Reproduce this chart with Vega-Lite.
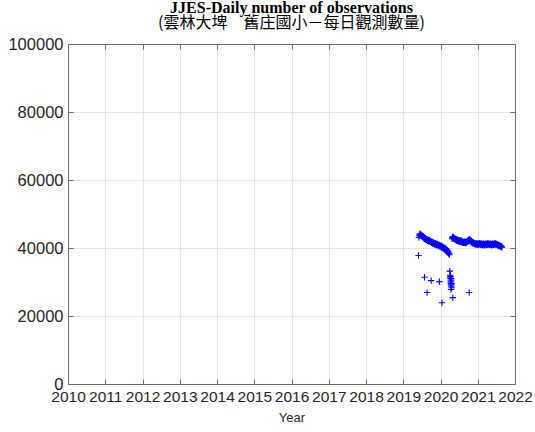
{
  "$schema": "https://vega.github.io/schema/vega-lite/v6.json",
  "width": 447,
  "height": 340,
  "autosize": {"type": "none"},
  "padding": {"left": 68, "top": 44, "right": 20, "bottom": 48},
  "background": "white",
  "title": {
    "text": "JJES-Daily number of observations",
    "subtitle": "(雲林大埤　舊庄國小－每日觀測數量)",
    "font": "Liberation Serif",
    "fontWeight": "bold",
    "fontSize": 16,
    "color": "black",
    "subtitleFont": "Noto Sans CJK TC",
    "subtitleFontSize": 16,
    "subtitleColor": "black",
    "anchor": "middle",
    "offset": 5,
    "subtitlePadding": -1
  },
  "config": {
    "view": {"stroke": "#6e6e6e", "strokeWidth": 1},
    "axis": {
      "labelFont": "Liberation Sans",
      "labelFontSize": 15.5,
      "labelColor": "#262626",
      "titleFont": "Liberation Sans",
      "titleFontSize": 13,
      "titleFontWeight": "normal",
      "titleColor": "#262626",
      "domainColor": "#6e6e6e",
      "tickColor": "#6e6e6e",
      "gridColor": "#e6e6e6",
      "gridWidth": 1,
      "tickSize": -5,
      "labelPadding": 10,
      "labelOverlap": false,
      "labelFlush": false,
      "labelBound": false
    }
  },
  "datasets": {
    "obs": [
      {"t": 2019.42, "n": 43100}, {"t": 2019.43, "n": 43600}, {"t": 2019.44, "n": 43900}, {"t": 2019.45, "n": 44200},
      {"t": 2019.46, "n": 43800}, {"t": 2019.47, "n": 44100}, {"t": 2019.48, "n": 43700}, {"t": 2019.49, "n": 43500},
      {"t": 2019.50, "n": 43800}, {"t": 2019.51, "n": 43400}, {"t": 2019.52, "n": 43200}, {"t": 2019.53, "n": 43500},
      {"t": 2019.54, "n": 43100}, {"t": 2019.55, "n": 42900}, {"t": 2019.56, "n": 43200}, {"t": 2019.57, "n": 42800},
      {"t": 2019.58, "n": 42600}, {"t": 2019.59, "n": 42900}, {"t": 2019.60, "n": 42500}, {"t": 2019.61, "n": 42700},
      {"t": 2019.62, "n": 42300}, {"t": 2019.63, "n": 42600}, {"t": 2019.64, "n": 42400}, {"t": 2019.65, "n": 42100},
      {"t": 2019.66, "n": 42500}, {"t": 2019.67, "n": 42200}, {"t": 2019.68, "n": 41900}, {"t": 2019.69, "n": 42300},
      {"t": 2019.70, "n": 42000}, {"t": 2019.71, "n": 42400}, {"t": 2019.72, "n": 42100}, {"t": 2019.73, "n": 41800},
      {"t": 2019.74, "n": 42000}, {"t": 2019.75, "n": 41700}, {"t": 2019.76, "n": 41500}, {"t": 2019.77, "n": 41900},
      {"t": 2019.78, "n": 41600}, {"t": 2019.79, "n": 41300}, {"t": 2019.80, "n": 41700}, {"t": 2019.81, "n": 41400},
      {"t": 2019.82, "n": 41200}, {"t": 2019.83, "n": 41500}, {"t": 2019.84, "n": 41100}, {"t": 2019.85, "n": 41300},
      {"t": 2019.86, "n": 41000}, {"t": 2019.87, "n": 41400}, {"t": 2019.88, "n": 41100}, {"t": 2019.89, "n": 40800},
      {"t": 2019.90, "n": 41200}, {"t": 2019.91, "n": 40900}, {"t": 2019.92, "n": 41100}, {"t": 2019.93, "n": 40700},
      {"t": 2019.94, "n": 41000}, {"t": 2019.95, "n": 40800}, {"t": 2019.96, "n": 40500}, {"t": 2019.97, "n": 40900},
      {"t": 2019.98, "n": 40600}, {"t": 2019.99, "n": 40400}, {"t": 2020.00, "n": 40700}, {"t": 2020.01, "n": 40500},
      {"t": 2020.02, "n": 40200}, {"t": 2020.03, "n": 40600}, {"t": 2020.04, "n": 40300}, {"t": 2020.05, "n": 40000},
      {"t": 2020.06, "n": 40400}, {"t": 2020.07, "n": 40100}, {"t": 2020.08, "n": 39800}, {"t": 2020.09, "n": 40200},
      {"t": 2020.10, "n": 39900}, {"t": 2020.11, "n": 39600}, {"t": 2020.12, "n": 40000}, {"t": 2020.13, "n": 39700},
      {"t": 2020.14, "n": 39400}, {"t": 2020.15, "n": 39800}, {"t": 2020.16, "n": 39300}, {"t": 2020.17, "n": 39000},
      {"t": 2020.18, "n": 39400}, {"t": 2020.19, "n": 38800}, {"t": 2020.20, "n": 39100}, {"t": 2020.21, "n": 38500},
      {"t": 2020.22, "n": 38900}, {"t": 2020.23, "n": 38300}, {"t": 2020.24, "n": 38000},
      {"t": 2020.31, "n": 42700}, {"t": 2020.32, "n": 43200}, {"t": 2020.33, "n": 42900}, {"t": 2020.34, "n": 43300},
      {"t": 2020.35, "n": 42800}, {"t": 2020.36, "n": 43000}, {"t": 2020.37, "n": 42600}, {"t": 2020.38, "n": 42900},
      {"t": 2020.39, "n": 42500}, {"t": 2020.40, "n": 42700}, {"t": 2020.41, "n": 42300}, {"t": 2020.42, "n": 42600},
      {"t": 2020.43, "n": 42200}, {"t": 2020.44, "n": 42500}, {"t": 2020.45, "n": 42100}, {"t": 2020.46, "n": 42400},
      {"t": 2020.47, "n": 42000}, {"t": 2020.48, "n": 42300}, {"t": 2020.49, "n": 41900}, {"t": 2020.50, "n": 42200},
      {"t": 2020.51, "n": 41800}, {"t": 2020.52, "n": 42100}, {"t": 2020.53, "n": 41900}, {"t": 2020.54, "n": 42300},
      {"t": 2020.55, "n": 42000}, {"t": 2020.56, "n": 41700}, {"t": 2020.57, "n": 42100}, {"t": 2020.58, "n": 41800},
      {"t": 2020.59, "n": 41600}, {"t": 2020.60, "n": 41900}, {"t": 2020.61, "n": 41700}, {"t": 2020.62, "n": 41500},
      {"t": 2020.63, "n": 41800}, {"t": 2020.64, "n": 41600}, {"t": 2020.65, "n": 41900}, {"t": 2020.66, "n": 41500},
      {"t": 2020.67, "n": 41700}, {"t": 2020.68, "n": 41400}, {"t": 2020.69, "n": 41800}, {"t": 2020.70, "n": 41600},
      {"t": 2020.71, "n": 41900}, {"t": 2020.72, "n": 42100}, {"t": 2020.73, "n": 41800}, {"t": 2020.74, "n": 42200},
      {"t": 2020.75, "n": 42400}, {"t": 2020.76, "n": 42000}, {"t": 2020.77, "n": 42300}, {"t": 2020.78, "n": 42500},
      {"t": 2020.79, "n": 42100}, {"t": 2020.80, "n": 42400}, {"t": 2020.81, "n": 42000}, {"t": 2020.82, "n": 41800},
      {"t": 2020.83, "n": 42100}, {"t": 2020.84, "n": 41700}, {"t": 2020.85, "n": 41500}, {"t": 2020.86, "n": 41800},
      {"t": 2020.87, "n": 41400}, {"t": 2020.88, "n": 41600}, {"t": 2020.89, "n": 41300}, {"t": 2020.90, "n": 41500},
      {"t": 2020.91, "n": 41200}, {"t": 2020.92, "n": 41400}, {"t": 2020.93, "n": 41100}, {"t": 2020.94, "n": 41300},
      {"t": 2020.95, "n": 41000}, {"t": 2020.96, "n": 41300}, {"t": 2020.97, "n": 41100}, {"t": 2020.98, "n": 41400},
      {"t": 2020.99, "n": 41000}, {"t": 2021.00, "n": 41200}, {"t": 2021.01, "n": 40900}, {"t": 2021.02, "n": 41300},
      {"t": 2021.03, "n": 41000}, {"t": 2021.04, "n": 41200}, {"t": 2021.05, "n": 41400}, {"t": 2021.06, "n": 41100},
      {"t": 2021.07, "n": 41300}, {"t": 2021.08, "n": 40900}, {"t": 2021.09, "n": 41200}, {"t": 2021.10, "n": 41000},
      {"t": 2021.11, "n": 41300}, {"t": 2021.12, "n": 41100}, {"t": 2021.13, "n": 40800}, {"t": 2021.14, "n": 41200},
      {"t": 2021.15, "n": 41000}, {"t": 2021.16, "n": 41300}, {"t": 2021.17, "n": 40900}, {"t": 2021.18, "n": 41100},
      {"t": 2021.19, "n": 40800}, {"t": 2021.20, "n": 41200}, {"t": 2021.21, "n": 41000}, {"t": 2021.22, "n": 41300},
      {"t": 2021.23, "n": 41100}, {"t": 2021.24, "n": 40900}, {"t": 2021.25, "n": 41200}, {"t": 2021.26, "n": 41000},
      {"t": 2021.27, "n": 41400}, {"t": 2021.28, "n": 41100}, {"t": 2021.29, "n": 41300}, {"t": 2021.30, "n": 41000},
      {"t": 2021.31, "n": 41200}, {"t": 2021.32, "n": 40900}, {"t": 2021.33, "n": 41100}, {"t": 2021.34, "n": 41300},
      {"t": 2021.35, "n": 41000}, {"t": 2021.36, "n": 41200}, {"t": 2021.37, "n": 40800}, {"t": 2021.38, "n": 41100},
      {"t": 2021.39, "n": 41300}, {"t": 2021.40, "n": 41000}, {"t": 2021.41, "n": 41200}, {"t": 2021.42, "n": 40900},
      {"t": 2021.43, "n": 41100}, {"t": 2021.44, "n": 41300}, {"t": 2021.45, "n": 41000}, {"t": 2021.46, "n": 41400},
      {"t": 2021.47, "n": 41100}, {"t": 2021.48, "n": 41300}, {"t": 2021.49, "n": 41000}, {"t": 2021.50, "n": 41200},
      {"t": 2021.51, "n": 40900}, {"t": 2021.52, "n": 41100}, {"t": 2021.53, "n": 40800}, {"t": 2021.54, "n": 41000},
      {"t": 2021.55, "n": 40700}, {"t": 2021.56, "n": 40900}, {"t": 2021.57, "n": 40600}, {"t": 2021.58, "n": 40800},
      {"t": 2021.59, "n": 40500}, {"t": 2021.60, "n": 40700}, {"t": 2021.61, "n": 40400}, {"t": 2021.62, "n": 40600},
      {"t": 2021.63, "n": 40300}, {"t": 2021.64, "n": 40500}, {"t": 2021.65, "n": 40200},
      {"t": 2019.41, "n": 37800}, {"t": 2019.57, "n": 31400}, {"t": 2019.64, "n": 26900}, {"t": 2019.75, "n": 30400},
      {"t": 2019.97, "n": 30100}, {"t": 2020.04, "n": 23900}, {"t": 2020.33, "n": 25400}, {"t": 2020.77, "n": 26900},
      {"t": 2020.25, "n": 33200}, {"t": 2020.26, "n": 32000}, {"t": 2020.26, "n": 31200}, {"t": 2020.27, "n": 30600},
      {"t": 2020.27, "n": 30000}, {"t": 2020.28, "n": 29600}, {"t": 2020.28, "n": 29200}, {"t": 2020.29, "n": 30300},
      {"t": 2020.29, "n": 28800}, {"t": 2020.30, "n": 28300}, {"t": 2020.30, "n": 29500}, {"t": 2020.27, "n": 31600},
      {"t": 2020.28, "n": 27800}, {"t": 2020.29, "n": 31000}
    ]
  },
  "layer": [
    {
      "data": {"name": "obs"},
      "mark": {"type": "point", "shape": "M-1,0L1,0M0,-1L0,1", "filled": false, "color": "#0000ff", "size": 40, "strokeWidth": 1.1, "opacity": 1},
      "encoding": {
        "x": {
          "field": "t", "type": "quantitative",
          "scale": {"domain": [2010, 2022], "nice": false, "zero": false},
          "axis": {"values": [2010, 2011, 2012, 2013, 2014, 2015, 2016, 2017, 2018, 2019, 2020, 2021, 2022], "format": "d", "title": "Year", "grid": true, "titlePadding": 7}
        },
        "y": {
          "field": "n", "type": "quantitative",
          "scale": {"domain": [0, 100000], "nice": false},
          "axis": {"values": [0, 20000, 40000, 60000, 80000, 100000], "format": "d", "title": null, "grid": true, "labelFontSize": 16.5}
        }
      }
    },
    {
      "data": {"values": [{"t": 2010, "n": 0}]},
      "mark": {"type": "point", "opacity": 0},
      "encoding": {
        "x": {"field": "t", "type": "quantitative", "axis": {"orient": "top", "values": [2010, 2011, 2012, 2013, 2014, 2015, 2016, 2017, 2018, 2019, 2020, 2021, 2022], "labels": false, "title": null, "grid": false}},
        "y": {"field": "n", "type": "quantitative", "axis": {"orient": "right", "values": [0, 20000, 40000, 60000, 80000, 100000], "labels": false, "title": null, "grid": false}}
      }
    }
  ],
  "resolve": {"axis": {"x": "independent", "y": "independent"}}
}
